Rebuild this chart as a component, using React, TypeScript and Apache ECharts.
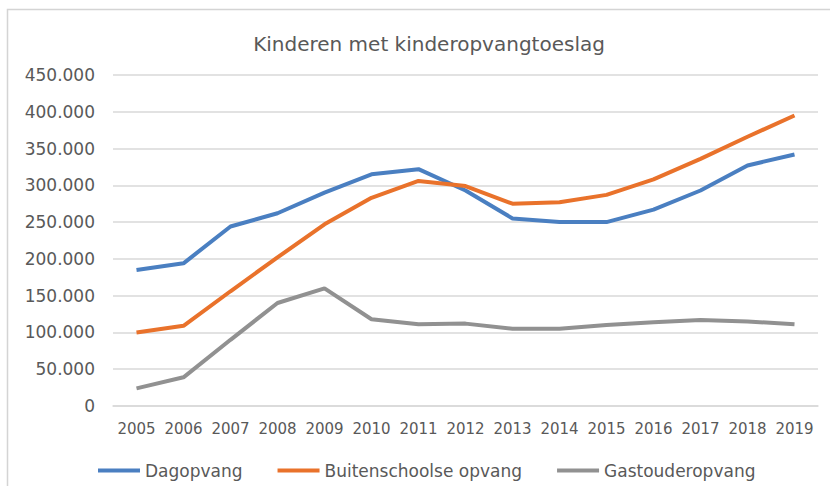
import React, { useEffect, useRef } from "react";
import * as echarts from "echarts";

const years = ["2005","2006","2007","2008","2009","2010","2011","2012","2013","2014","2015","2016","2017","2018","2019"];
const dagopvang = [185000, 194000, 244000, 262000, 290000, 315000, 322000, 293000, 255000, 250000, 250000, 267000, 293000, 327000, 342000];
const buitenschoolse = [100000, 109000, 156000, 202000, 247000, 283000, 306000, 299000, 275000, 277000, 287000, 308000, 336000, 366000, 395000];
const gastouder = [24000, 39000, 90000, 140000, 160000, 118000, 111000, 112000, 105000, 105000, 110000, 114000, 117000, 115000, 111000];
const yTicks = { min: 0, max: 450000, interval: 50000 };

const FONT = "DejaVu Sans";
const TEXT = "#595959";

export default function App() {
  const ref = useRef<HTMLDivElement>(null);
  useEffect(() => {
    if (!ref.current) return;
    const chart = echarts.init(ref.current, undefined, { renderer: "svg" });
    const fmt = (v: number) => (v === 0 ? "0" : String(v).replace(/\B(?=(\d{3})+(?!\d))/g, "."));
    chart.setOption({
      animation: false,
      backgroundColor: "#ffffff",
      title: {
        text: "Kinderen met kinderopvangtoeslag",
        left: 424,
        top: 29,
        textAlign: "center",
        textStyle: { fontFamily: FONT, fontSize: 20, fontWeight: "normal", color: TEXT },
      },
      graphic: [
        {
          type: "rect",
          shape: { x: 7.5, y: 9.5, width: 840, height: 500 },
          style: { fill: "none", stroke: "#d4d4d4", lineWidth: 1.5 },
          silent: true,
        },
      ],
      grid: { left: 113, right: 12, top: 75, bottom: 80 },
      legend: {
        left: 93,
        top: 457,
        itemWidth: 42,
        itemHeight: 4,
        itemGap: 35,
        icon: "rect",
        textStyle: { fontFamily: FONT, fontSize: 17, color: TEXT },
        data: ["Dagopvang", "Buitenschoolse opvang", "Gastouderopvang"],
      },
      xAxis: {
        type: "category",
        data: years,
        boundaryGap: true,
        axisLine: { show: true, lineStyle: { color: "#d9d9d9", width: 1.5 } },
        axisTick: { show: false },
        axisLabel: { fontFamily: FONT, fontSize: 15, color: TEXT, margin: 15, interval: 0, hideOverlap: false },
      },
      yAxis: {
        type: "value",
        min: yTicks.min,
        max: yTicks.max,
        interval: yTicks.interval,
        axisLine: { show: false },
        axisTick: { show: false },
        splitLine: { lineStyle: { color: "#d9d9d9", width: 1.5 } },
        axisLabel: { fontFamily: FONT, fontSize: 17, color: TEXT, margin: 18, formatter: fmt },
      },
      series: [
        { name: "Dagopvang", type: "line", data: dagopvang, symbol: "none", lineStyle: { width: 4, color: "#4a7fc1" }, itemStyle: { color: "#4a7fc1" } },
        { name: "Buitenschoolse opvang", type: "line", data: buitenschoolse, symbol: "none", lineStyle: { width: 4, color: "#e9722b" }, itemStyle: { color: "#e9722b" } },
        { name: "Gastouderopvang", type: "line", data: gastouder, symbol: "none", lineStyle: { width: 4, color: "#919191" }, itemStyle: { color: "#919191" } },
      ],
    });
    return () => chart.dispose();
  }, []);
  return <div ref={ref} style={{ position: "fixed", left: 0, top: 0, width: 830, height: 486 }} />;
}
